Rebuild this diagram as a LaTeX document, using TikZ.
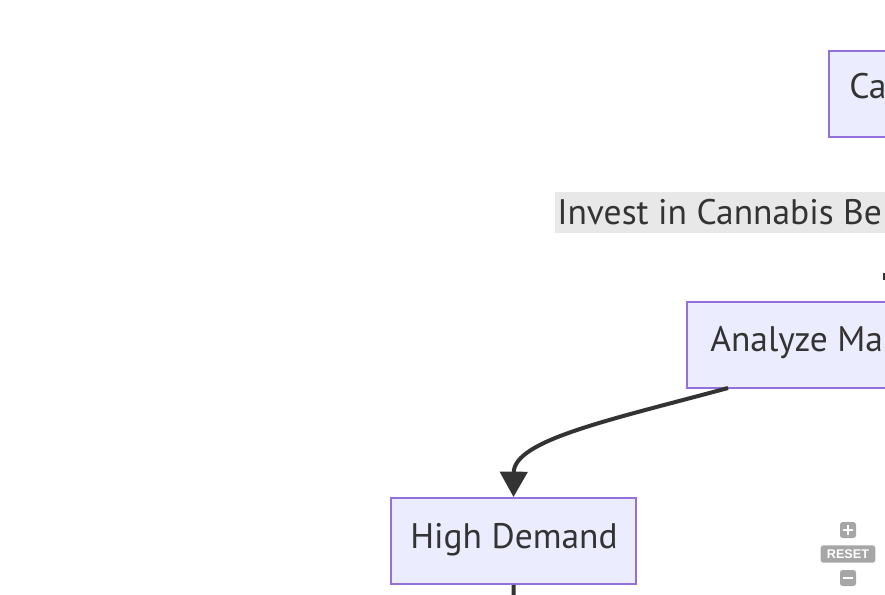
\documentclass[tikz,border=0pt]{standalone}
\usepackage{fontspec}
\setmainfont{PT Sans}
\newfontfamily\iconfont{Liberation Sans}
\usetikzlibrary{arrows.meta}
\definecolor{nodefill}{HTML}{ECECFF}
\definecolor{nodedraw}{HTML}{9370DB}
\definecolor{txt}{HTML}{333333}
\definecolor{lblbg}{HTML}{E8E8E8}
\definecolor{icon}{HTML}{A6A6A6}
\tikzset{
  box/.style={draw=nodedraw, fill=nodefill, line width=1.5pt, inner sep=0pt, minimum height=64.5pt},
  lbl/.style={text=txt, inner sep=0pt, font=\fontsize{26.6}{30}\selectfont},
  edge/.style={draw=txt, line width=3pt},
  tip/.style={-{Triangle[length=19pt,width=20.5pt]}},
  iconbox/.style={fill=icon, rounded corners=2pt, draw=none, inner sep=0pt},
}
\begin{document}
\begin{tikzpicture}[x=0.75pt,y=-0.75pt]
\useasboundingbox (0,0) rectangle (885,595);
\clip (0,0) rectangle (885,595);
\fill[white] (0,0) rectangle (885,595);
% top node (cut off)
\node[box, anchor=north west, minimum width=279pt] (ca) at (828,50) {};
\node[lbl, anchor=base west] (catext) at (849,99) {Ca};
% edge label
\node[fill=lblbg, anchor=north west, inner sep=0pt, minimum width=300pt, minimum height=30.75pt] (invbg) at (555,192) {};
\node[lbl, anchor=base west] (inv) at (557,225) {Invest in Cannabis Be};
% cut edge end
\coordinate (t1) at (884,273);
\coordinate (t2) at (884,280);
\draw[draw=txt, line width=1.5pt] (t1) -- (t2);
% analyze node (cut off)
\node[box, anchor=north west, minimum width=279pt] (an) at (686,301) {};
\node[lbl, anchor=base west] (antext) at (710,351) {Analyze Ma};
% high demand
\node[box, minimum width=183.75pt] (hd) at (513.5,541) {};
\node[lbl, anchor=base] (hdtext) at (514,548) {High Demand};
% edges
\coordinate (anout) at (728,388);
\draw[edge, tip] (anout) .. controls (610,420) and (514,440) .. (hd.north);
\coordinate (down) at (514,610);
\draw[edge] (hd.south) -- (down);
% zoom controls
\node[iconbox, minimum width=12pt, minimum height=12pt] (plus) at (848,530) {};
\draw[white, line width=2pt] ([xshift=-3.5pt]plus.center) -- ([xshift=3.5pt]plus.center);
\draw[white, line width=2pt] ([yshift=-3.5pt]plus.center) -- ([yshift=3.5pt]plus.center);
\node[iconbox, minimum width=41pt, minimum height=13pt, text=white, font=\iconfont\bfseries\fontsize{9.5}{10}\selectfont] (reset) at (848,554) {RESET};
\node[iconbox, minimum width=12pt, minimum height=12pt] (minus) at (848,578) {};
\draw[white, line width=2pt] ([xshift=-3.5pt]minus.center) -- ([xshift=3.5pt]minus.center);
\end{tikzpicture}
\end{document}
